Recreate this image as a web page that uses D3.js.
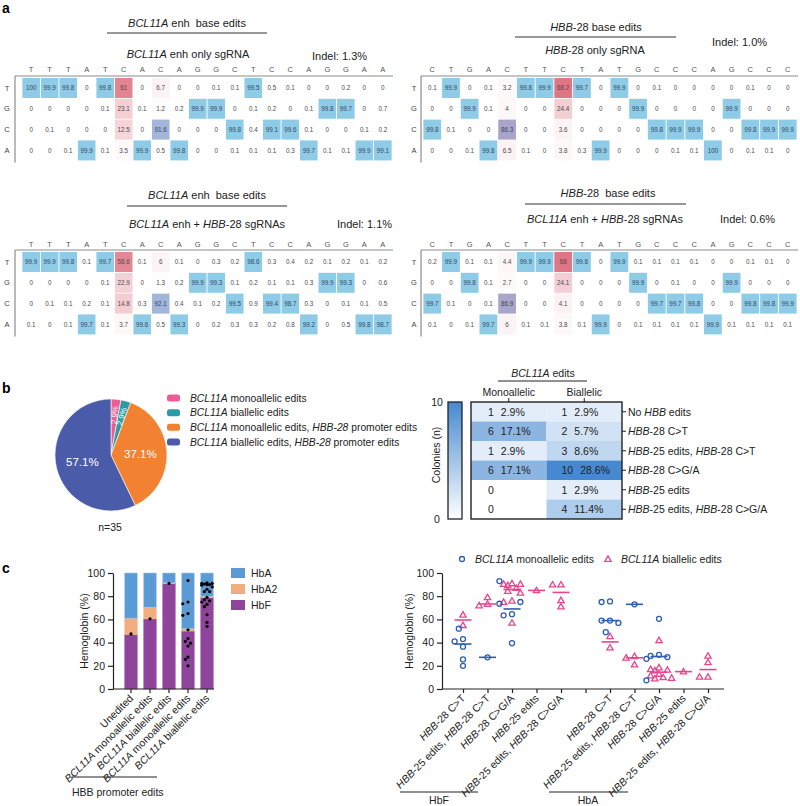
<!DOCTYPE html>
<html><head><meta charset="utf-8">
<script src="https://cdn.jsdelivr.net/npm/d3@7"></script>
<style>
body{margin:0;background:#fff;}
svg{font-family:"Liberation Sans", Arial, Helvetica, sans-serif;}
text{white-space:pre;}
</style></head><body>
<svg id="fig" width="800" height="806"></svg>
<script>
// ================= DATA =================
// Panel a
const bases = ["T","G","C","A"];
const bclSeq = ["T","T","T","A","T","C","A","C","A","G","G","C","T","C","C","A","G","G","A","A"];
const hbbSeq = ["C","T","G","A","C","T","T","C","T","A","T","G","C","C","C","A","G","C","C","C"];

const bclOnlyT = [100,99.9,99.8,0,99.8,61,0,6.7,0,0,0.1,0.1,99.5,0.5,0.1,0,0,0.2,0,0];
const bclOnlyG = [0,0,0,0,0.1,23.1,0.1,1.2,0.2,99.9,99.9,0,0.1,0.2,0,0.1,99.8,99.7,0,0.7];
const bclOnlyC = [0,0.1,0,0,0,12.5,0,91.6,0,0,0,99.8,0.4,99.1,99.6,0.1,0,0,0.1,0.2];
const bclOnlyA = [0,0,0.1,99.9,0.1,3.5,99.9,0.5,99.8,0,0,0.1,0.1,0.1,0.3,99.7,0.1,0.1,99.9,99.1];

const hbbOnlyT = [0.1,99.9,0,0.1,3.2,99.8,99.9,68.2,99.7,0,99.9,0,0.1,0,0,0,0,0.1,0,0];
const hbbOnlyG = [0,0,99.9,0.1,4,0,0,24.4,0,0,0,99.9,0,0,0,0,99.9,0,0,0];
const hbbOnlyC = [99.8,0.1,0,0,86.3,0,0,3.6,0,0,0,0,99.8,99.9,99.9,0,0,99.8,99.9,99.9];
const hbbOnlyA = [0,0,0.1,99.8,6.5,0.1,0,3.8,0.3,99.9,0,0,0,0.1,0.1,100,0,0.1,0.1,0];

const bclDualT = [99.9,99.9,99.8,0.1,99.7,58.6,0.1,6,0.1,0,0.3,0.2,98.6,0.3,0.4,0.2,0.1,0.2,0.1,0.2];
const bclDualG = [0,0,0,0,0.1,22.9,0,1.3,0.2,99.9,99.3,0.1,0.2,0.1,0.1,0.3,99.9,99.3,0,0.6];
const bclDualC = [0,0.1,0.1,0.2,0.1,14.8,0.3,92.1,0.4,0.1,0.2,99.5,0.9,99.4,98.7,0.3,0,0.1,0.1,0.5];
const bclDualA = [0.1,0,0.1,99.7,0.1,3.7,99.6,0.5,99.3,0,0.2,0.3,0.3,0.2,0.8,99.2,0,0.5,99.8,98.7];

const hbbDualT = [0.2,99.9,0.1,0.1,4.4,99.9,99.9,68,99.8,0,99.9,0.1,0.1,0.1,0.1,0,0,0.1,0.1,0];
const hbbDualG = [0,0,99.8,0.1,2.7,0,0,24.1,0,0,0,99.9,0,0.1,0,0,99.9,0,0,0];
const hbbDualC = [99.7,0.1,0,0.1,86.9,0,0,4.1,0,0,0,0,99.7,99.7,99.8,0,0,99.8,99.8,99.9];
const hbbDualA = [0.1,0,0.1,99.7,6,0.1,0.1,3.8,0.1,99.9,0,0.1,0.1,0.1,0.1,99.9,0.1,0.1,0.1,0.1];

const indels = ["Indel: 1.3%","Indel: 1.0%","Indel: 1.1%","Indel: 0.6%"];

// Panel b
const pieLabels = ["BCL11A monoallelic edits","BCL11A biallelic edits","BCL11A monoallelic edits, HBB-28 promoter edits","BCL11A biallelic edits, HBB-28 promoter edits"];
const pieCounts = [1,1,13,20];
const hbbGroups = ["No HBB edits","HBB-28 C>T","HBB-25 edits, HBB-28 C>T","HBB-28 C>G/A","HBB-25 edits","HBB-25 edits, HBB-28 C>G/A"];
const alleleCols = ["Monoallelic","Biallelic"];
const monoCounts = [1,6,1,6,0,0];
const biCounts = [1,2,3,10,1,4];

// Panel c (bar)
const barLabels = ["Unedited","BCL11A monoallelic edits","BCL11A biallelic edits","BCL11A monoallelic edits","BCL11A biallelic edits"];
const hbKeys = ["HbF","HbA2","HbA"];
const hbF = [47,60.5,91,50,79];
const hbA2 = [14,10,0.5,2,1];
const hbA = [39,29.5,8.5,48,20];
const barDots = [
  [47.5],[60.5],[91],
  [93.5,75,73.5,65,63.5,51,43.5,41,39.5,37,27.5,25.5,20],
  [91.5,91,91,90.5,90,90,89.5,88,86,84,84,79,77,76,75,73,71,64,57.5,54]
];
// Panel c (scatter)
const scatterLabels = ["HBB-28 C>T","HBB-25 edits, HBB-28 C>T","HBB-28 C>G/A","HBB-25 edits","HBB-25 edits, HBB-28 C>G/A","",
  "HBB-28 C>T","HBB-25 edits, HBB-28 C>T","HBB-28 C>G/A","HBB-25 edits","HBB-25 edits, HBB-28 C>G/A"];
const monoPoints = [[52,43,41,36.5,25.5,20],[27.3],[93,75,73.5,64.5,63.5,39.5],[],[],[],
  [75.5,75,59,59,57,49],[73],[60.5,29.5,28.5,27.5,26,7.5],[],[]];
const biPoints = [[64,55],[79,73.3,72],[91,90.5,90.5,89.5,87,84.5,83,76,75,57],[85],[90,90,76.5,71],[],
  [45.5,35.7],[28.3,26.9,21],[42,18.5,17,16.5,16,13,11.5,10,9.5,9],[15],[28.6,23,10.5,10.5]];
const yTicks = [0,20,40,60,80,100];

// ================= DRAWING =================
const svg = d3.select("#fig");
const INK = "#222";

function rich(sel, str, words){
  const re = new RegExp("(" + words.map(w=>w.replace(/[-]/g,"\\-")).join("|") + ")");
  str.split(re).filter(s=>s.length).forEach(p=>{
    const t = sel.append("tspan").text(p);
    if(words.includes(p)) t.attr("font-style","italic");
  });
  return sel;
}
function panelLabel(t,x,y){
  svg.append("text").attr("x",x).attr("y",y).attr("font-size",14).attr("font-weight","bold").attr("fill","#000").text(t);
}

// ---------- Panel a ----------
const blueCell = "#8ecbe7";
const redScale = d3.interpolateRgb("#ffffff","#db6878");
function cellColor(v, isRef){
  if(isRef){
    if(v >= 95) return blueCell;
    if(v >= 80) return d3.interpolateRgb("#aaa3c9","#a2b6da")(Math.max(0,Math.min(1,(v-86)/6)));
    return redScale(Math.min(1, v/45));
  }
  return redScale(Math.min(1, v/75));
}
function seqPanel(o){
  const g = svg.append("g");
  const x = d3.scaleBand().domain(d3.range(o.seq.length)).range(o.xr).paddingInner(0.05).paddingOuter(0.02);
  const rowH = 20.6;
  const y = d3.scaleBand().domain(bases).range([o.top+2, o.top+2+4*rowH]).paddingInner(0.04);
  const cells = [];
  o.rows.forEach((arr,ri)=>arr.forEach((v,ci)=>cells.push({b:bases[ri], i:ci, v, ref:o.seq[ci]===bases[ri]})));
  g.selectAll("rect.cell").data(cells).join("rect").attr("class","cell")
    .attr("x",d=>x(d.i)).attr("y",d=>y(d.b)).attr("width",x.bandwidth()).attr("height",y.bandwidth())
    .attr("fill",d=>cellColor(d.v,d.ref));
  g.selectAll("text.val").data(cells).join("text").attr("class","val")
    .attr("x",d=>x(d.i)+x.bandwidth()/2).attr("y",d=>y(d.b)+y.bandwidth()/2+2.2)
    .attr("text-anchor","middle").attr("font-size",6.3).attr("fill",d=>d.v>=80?"#34495e":"#4d4d4d").text(d=>String(d.v));
  g.selectAll("text.hd").data(o.seq).join("text").attr("class","hd")
    .attr("x",(d,i)=>x(i)+x.bandwidth()/2).attr("y",o.headerY+2.7)
    .attr("text-anchor","middle").attr("font-size",7.5).attr("fill","#555").text(d=>d);
  g.selectAll("text.rl").data(bases).join("text").attr("class","rl")
    .attr("x",o.labelX).attr("y",d=>y(d)+y.bandwidth()/2+2.7)
    .attr("text-anchor","middle").attr("font-size",7.5).attr("fill","#444").text(d=>d);
  g.append("line").attr("x1",o.axisX).attr("x2",o.xr[1]+1).attr("y1",o.top).attr("y2",o.top)
    .attr("stroke","#8c8c8c").attr("stroke-width",1.2);
  g.append("line").attr("x1",o.axisX).attr("x2",o.axisX).attr("y1",o.top).attr("y2",o.top+4+4*rowH)
    .attr("stroke","#8c8c8c").attr("stroke-width",1.2);
  rich(g.append("text").attr("x",o.tx).attr("y",o.ty).attr("text-anchor","middle").attr("font-size",11).attr("fill",INK), o.title, ["BCL11A","HBB"]);
  g.append("line").attr("x1",o.lx[0]).attr("x2",o.lx[1]).attr("y1",o.ly).attr("y2",o.ly).attr("stroke","#333").attr("stroke-width",1.2);
  rich(g.append("text").attr("x",o.sx).attr("y",o.sy).attr("text-anchor","middle").attr("font-size",11).attr("fill",INK), o.sub, ["BCL11A","HBB"]);
  g.append("text").attr("x",o.ix).attr("y",o.iy).attr("font-size",11).attr("fill",INK).text(o.indel);
}
panelLabel("a",2,13);
seqPanel({seq:bclSeq, rows:[bclOnlyT,bclOnlyG,bclOnlyC,bclOnlyA], xr:[22,392], labelX:7, axisX:15, top:76, headerY:69,
  title:"BCL11A enh  base edits", tx:187, ty:27, lx:[107,267], ly:33, sub:"BCL11A enh only sgRNA", sx:188, sy:58, indel:indels[0], ix:312, iy:60});
seqPanel({seq:hbbSeq, rows:[hbbOnlyT,hbbOnlyG,hbbOnlyC,hbbOnlyA], xr:[423,797], labelX:414, axisX:421, top:76, headerY:69,
  title:"HBB-28 base edits", tx:596, ty:31, lx:[515,676], ly:37, sub:"HBB-28 only sgRNA", sx:595, sy:54, indel:indels[1], ix:712, iy:46});
seqPanel({seq:bclSeq, rows:[bclDualT,bclDualG,bclDualC,bclDualA], xr:[22,392], labelX:7, axisX:15, top:250, headerY:244,
  title:"BCL11A enh  base edits", tx:207, ty:199, lx:[127,287], ly:206, sub:"BCL11A enh + HBB-28 sgRNAs", sx:207, sy:228, indel:indels[2], ix:337, iy:228});
seqPanel({seq:hbbSeq, rows:[hbbDualT,hbbDualG,hbbDualC,hbbDualA], xr:[423,797], labelX:414, axisX:421, top:250, headerY:244,
  title:"HBB-28  base edits", tx:608, ty:197, lx:[525,686], ly:204, sub:"BCL11A enh + HBB-28 sgRNAs", sx:605, sy:223, indel:indels[3], ix:720, iy:223});

// ---------- Panel b: pie ----------
panelLabel("b",2,393);
const pieColors = ["#ec5d93","#2a9aa7","#f28131","#4a5ba9"];
const pieG = svg.append("g").attr("transform","translate(111,455)");
const R = 56;
const arcs = d3.pie().sort(null).value(d=>d)(pieCounts);
const arcGen = d3.arc().innerRadius(0).outerRadius(R);
const total = d3.sum(pieCounts);
pieG.selectAll("path").data(arcs).join("path").attr("d",arcGen).attr("fill",(d,i)=>pieColors[i])
  .attr("stroke","#fff").attr("stroke-width",0.6);
const pct = v => (v/total*100).toFixed(1)+"%";
arcs.forEach((a,i)=>{
  const mid = (a.startAngle+a.endAngle)/2;
  if(a.value/total > 0.1){
    const c = d3.arc().innerRadius(0).outerRadius(R*1.05).centroid(a);
    pieG.append("text").attr("x",c[0]).attr("y",c[1]+4).attr("text-anchor","middle").attr("font-size",11.5).attr("fill","#fff").text(pct(a.value));
  } else {
    const r = 40, deg = mid*180/Math.PI;
    pieG.append("text").attr("transform",`translate(${r*Math.sin(mid)},${-r*Math.cos(mid)}) rotate(${deg-90})`)
      .attr("text-anchor","middle").attr("dy","0.35em").attr("font-size",8).attr("fill","#fff").text(pct(a.value));
  }
});
svg.append("text").attr("x",110).attr("y",531).attr("text-anchor","middle").attr("font-size",10.5).attr("fill",INK).text("n="+total);
const legY = d3.scalePoint().domain(d3.range(4)).range([398,442]);
pieLabels.forEach((l,i)=>{
  svg.append("rect").attr("x",167).attr("y",legY(i)-3.5).attr("width",13).attr("height",7).attr("rx",2.5).attr("fill",pieColors[i]);
  rich(svg.append("text").attr("x",190).attr("y",legY(i)+3.8).attr("font-size",10.3).attr("fill",INK), l, ["BCL11A","HBB-28"]);
});

// ---------- Panel b: table ----------
const tX = d3.scaleBand().domain(alleleCols).range([471,622]);
const tY = d3.scaleBand().domain(d3.range(hbbGroups.length)).range([402,519]);
const tColor = d3.scaleLinear().domain([0,10]).range(["#f4f8fd","#4689d0"]);
const tCells = [];
hbbGroups.forEach((g,i)=>{ tCells.push({col:"Monoallelic",row:i,n:monoCounts[i]}); tCells.push({col:"Biallelic",row:i,n:biCounts[i]}); });
const tTotal = d3.sum(monoCounts)+d3.sum(biCounts);
svg.selectAll("rect.tc").data(tCells).join("rect").attr("class","tc")
  .attr("x",d=>tX(d.col)).attr("y",d=>tY(d.row)).attr("width",tX.bandwidth()).attr("height",tY.bandwidth())
  .attr("fill",d=>d.n===0?"#ffffff":tColor(d.n));
tCells.forEach(d=>{
  const t = svg.append("text").attr("x",tX(d.col)+(d.col==="Monoallelic"?17:15)).attr("y",tY(d.row)+tY.bandwidth()/2+3.8)
    .attr("font-size",10.5).attr("fill",INK);
  t.append("tspan").text(d.n);
  if(d.n>0) t.append("tspan").attr("dx",7).text((d.n/tTotal*100).toFixed(1)+"%");
});
svg.append("rect").attr("x",471).attr("y",402).attr("width",151).attr("height",117).attr("fill","none").attr("stroke","#222").attr("stroke-width",1.4);
hbbGroups.forEach((g,i)=>{
  const yy = tY(i)+tY.bandwidth()/2;
  svg.append("line").attr("x1",622).attr("x2",626).attr("y1",yy).attr("y2",yy).attr("stroke","#222");
  rich(svg.append("text").attr("x",628).attr("y",yy+3.8).attr("font-size",10.5).attr("fill",INK), g, ["HBB"]);
});
alleleCols.forEach(c=>{
  const xx = tX(c)+tX.bandwidth()/2;
  svg.append("line").attr("x1",xx).attr("x2",xx).attr("y1",398).attr("y2",402).attr("stroke","#222");
  svg.append("text").attr("x",xx).attr("y",396).attr("text-anchor","middle").attr("font-size",10.5).attr("fill",INK).text(c);
});
rich(svg.append("text").attr("x",543).attr("y",377).attr("text-anchor","middle").attr("font-size",10.5).attr("fill",INK), "BCL11A edits", ["BCL11A"]);
svg.append("line").attr("x1",498).attr("x2",587).attr("y1",381).attr("y2",381).attr("stroke","#222").attr("stroke-width",1.1);
// colour bar
const defs = svg.append("defs");
const grad = defs.append("linearGradient").attr("id","cbar").attr("x1",0).attr("x2",0).attr("y1",0).attr("y2",1);
grad.append("stop").attr("offset","0%").attr("stop-color",tColor(10));
grad.append("stop").attr("offset","100%").attr("stop-color","#ffffff");
svg.append("rect").attr("x",448).attr("y",402).attr("width",14).attr("height",117).attr("fill","url(#cbar)").attr("stroke","#222").attr("stroke-width",1.3);
const cbY = d3.scaleLinear().domain([0,10]).range([519,402]);
[0,10].forEach(v=>svg.append("text").attr("x",437).attr("y",cbY(v)+4).attr("text-anchor","middle").attr("font-size",10.5).attr("fill",INK).text(v));
svg.append("text").attr("transform","translate(440,455) rotate(-90)").attr("text-anchor","middle").attr("font-size",10.5).attr("fill",INK).text("Colonies (n)");

// ---------- Panel c: stacked bars ----------
panelLabel("c",2,573);
const yC = d3.scaleLinear().domain([0,100]).range([689,573]);
const xBar = d3.scaleBand().domain(d3.range(barLabels.length)).range([121.5,216.5]).paddingInner(0.34).paddingOuter(0.17);
const hbColors = {HbF:"#8e449b", HbA2:"#f1ac7f", HbA:"#5b9bd5"};
const hbStroke = {HbF:"#a56ab0", HbA2:"#f4c09c", HbA:"#a4c8ec"};
const barTable = barLabels.map((l,i)=>({i, HbF:hbF[i], HbA2:hbA2[i], HbA:hbA[i]}));
const stacked = d3.stack().keys(hbKeys)(barTable);
const barG = svg.append("g");
stacked.forEach(layer=>{
  barG.selectAll(null).data(layer).join("rect")
    .attr("x",d=>xBar(d.data.i)).attr("width",xBar.bandwidth())
    .attr("y",d=>yC(d[1])).attr("height",d=>yC(d[0])-yC(d[1]))
    .attr("fill",hbColors[layer.key]).attr("stroke",hbStroke[layer.key]).attr("stroke-width",0.6);
});
function swarm(vals, ys, step, minD, maxK){
  const placed=[];
  return vals.map(v=>{
    const py = ys(v); const cands=[0];
    for(let j=1;j<=maxK;j++){cands.push(-j*step, j*step);}
    let off=0, best=-1, bestOff=0;
    for(const c of cands){
      const dmin = placed.length? d3.min(placed,p=>Math.hypot(p[0]-c,p[1]-py)) : Infinity;
      if(dmin>=minD){off=c;best=Infinity;break;}
      if(dmin>best){best=dmin;bestOff=c;}
    }
    if(best!==Infinity) off=bestOff;
    placed.push([off,py]); return off;
  });
}
barDots.forEach((vals,i)=>{
  const offs = swarm(vals, yC, 2.6, 3.2, 2);
  vals.forEach((v,k)=>barG.append("circle").attr("cx",xBar(i)+xBar.bandwidth()/2+offs[k]).attr("cy",yC(v)).attr("r",1.6).attr("fill","#000"));
});
function styleAxis(g){
  g.selectAll("path,line").attr("stroke","#222").attr("stroke-width",1.2);
  g.selectAll("text").attr("font-size",10.5).attr("fill",INK).attr("font-family",null);
}
svg.append("g").attr("transform","translate(113,0)").call(d3.axisLeft(yC).tickValues(yTicks).tickSize(5).tickSizeOuter(0)).call(styleAxis);
const xbAxis = svg.append("g").attr("transform","translate(0,689)").call(d3.axisBottom(xBar).tickSize(4).tickSizeOuter(0).tickFormat(""));
xbAxis.select("path.domain").attr("d","M113,0H214");
xbAxis.call(styleAxis);
barLabels.forEach((l,i)=>{
  rich(svg.append("text").attr("transform",`translate(${xBar(i)+xBar.bandwidth()/2+3},${699}) rotate(-45)`)
    .attr("text-anchor","end").attr("font-size",10.5).attr("fill",INK), l, ["BCL11A"]);
});
svg.append("text").attr("transform","translate(88,631) rotate(-90)").attr("text-anchor","middle").attr("font-size",10.5).attr("fill",INK).text("Hemoglobin (%)");
svg.append("line").attr("x1",72).attr("x2",157).attr("y1",777).attr("y2",777).attr("stroke","#222").attr("stroke-width",1.2);
svg.append("text").attr("x",72).attr("y",796).attr("font-size",10.5).attr("fill",INK).text("HBB promoter edits");
const legC = d3.scalePoint().domain(["HbA","HbA2","HbF"]).range([573,605]);
legC.domain().forEach(k=>{
  svg.append("rect").attr("x",231).attr("y",legC(k)-5).attr("width",14).attr("height",10).attr("fill",hbColors[k]);
  svg.append("text").attr("x",251).attr("y",legC(k)+4).attr("font-size",10.5).attr("fill",INK).text(k);
});

// ---------- Panel c: scatter ----------
const xS = d3.scalePoint().domain(d3.range(scatterLabels.length)).range([463,708]);
const monoColor = "#2f5db3", biColor = "#e8458c";
svg.append("g").attr("transform","translate(442,0)").call(d3.axisLeft(yC).tickValues(yTicks).tickSize(5).tickSizeOuter(0)).call(styleAxis);
const xsAxis = svg.append("g").attr("transform","translate(0,689)").call(d3.axisBottom(xS).tickSize(4).tickSizeOuter(0).tickFormat(""));
xsAxis.select("path.domain").attr("d","M442,0H724");
xsAxis.call(styleAxis);
svg.append("text").attr("transform","translate(413,631) rotate(-90)").attr("text-anchor","middle").attr("font-size",10.5).attr("fill",INK).text("Hemoglobin (%)");
const scG = svg.append("g");
const triPath = d3.symbol(d3.symbolTriangle, 17)();
scatterLabels.forEach((lab,i)=>{
  const cx = xS(i);
  const all = biPoints[i].map(v=>({v,s:"bi"})).concat(monoPoints[i].map(v=>({v,s:"mono"})));
  const offs = swarm(all.map(d=>d.v), yC, 4.2, 5.2, 3);
  all.forEach((d,k)=>{
    const px = cx+offs[k], py = yC(d.v);
    if(d.s==="mono") scG.append("circle").attr("cx",px).attr("cy",py).attr("r",2.5).attr("fill","none").attr("stroke",monoColor).attr("stroke-width",1.3);
    else scG.append("path").attr("d",triPath).attr("transform",`translate(${px},${py+0.5})`).attr("fill","none").attr("stroke",biColor).attr("stroke-width",1.3);
  });
  [[monoPoints[i],monoColor],[biPoints[i],biColor]].forEach(([vals,col])=>{
    if(vals.length){
      const m = d3.median(vals);
      scG.append("line").attr("x1",cx-8.5).attr("x2",cx+8.5).attr("y1",yC(m)).attr("y2",yC(m)).attr("stroke",col).attr("stroke-width",1.6);
    }
  });
  if(lab) rich(svg.append("text").attr("transform",`translate(${cx+3},699) rotate(-45)`).attr("text-anchor","end")
      .attr("font-size",10.5).attr("fill",INK), lab, ["HBB"]);
});
// legend
svg.append("circle").attr("cx",462).attr("cy",559).attr("r",2.5).attr("fill","none").attr("stroke",monoColor).attr("stroke-width",1.3);
rich(svg.append("text").attr("x",475).attr("y",563).attr("font-size",10.5).attr("fill",INK),"BCL11A monoallelic edits",["BCL11A"]);
svg.append("path").attr("d",triPath).attr("transform","translate(608,559.5)").attr("fill","none").attr("stroke",biColor).attr("stroke-width",1.3);
rich(svg.append("text").attr("x",621).attr("y",563).attr("font-size",10.5).attr("fill",INK),"BCL11A biallelic edits",["BCL11A"]);
// group brackets
svg.append("line").attr("x1",400).attr("x2",478).attr("y1",792).attr("y2",792).attr("stroke","#222").attr("stroke-width",1.2);
svg.append("text").attr("x",439).attr("y",804).attr("text-anchor","middle").attr("font-size",10.5).attr("fill",INK).text("HbF");
svg.append("line").attr("x1",549).attr("x2",628).attr("y1",792).attr("y2",792).attr("stroke","#222").attr("stroke-width",1.2);
svg.append("text").attr("x",588).attr("y",804).attr("text-anchor","middle").attr("font-size",10.5).attr("fill",INK).text("HbA");
</script>
</body></html>
